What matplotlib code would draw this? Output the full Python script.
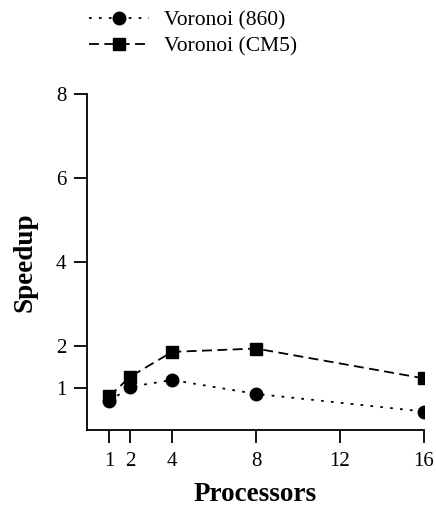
import matplotlib
matplotlib.use("Agg")
import matplotlib.pyplot as plt

processors = [1, 2, 4, 8, 16]
speedup_860 = [0.68, 1.03, 1.19, 0.86, 0.44]
speedup_cm5 = [0.80, 1.27, 1.86, 1.94, 1.23]
xticks = [1, 2, 4, 8, 12, 16]
yticks = [1, 2, 4, 6, 8]

plt.rcParams['font.family'] = ['Liberation Serif', 'DejaVu Serif']
plt.rcParams['font.size'] = 15

fig = plt.figure(figsize=(4.36, 5.08), dpi=100)
ax = fig.add_axes([0.2, 0.1535, 0.772, 0.6615])

l1, = ax.plot(processors, speedup_860, color='black', lw=1.3, linestyle=(0, (1.5, 4)),
              marker='o', markersize=9, label='Voronoi (860)')
l2, = ax.plot(processors, speedup_cm5, color='black', lw=1.3, linestyle=(0, (5.5, 3)),
              marker='s', markersize=9, label='Voronoi (CM5)')

ax.set_xlim(-0.05, 16)
ax.set_ylim(0, 8)
ax.set_xticks(xticks)
ax.set_yticks(yticks)
ax.spines['top'].set_visible(False)
ax.spines['right'].set_visible(False)
for s in ['left', 'bottom']:
    ax.spines[s].set_linewidth(1.3)
ax.tick_params(direction='out', length=9.5, width=1.3, labelsize=15)
ax.tick_params(axis='x', pad=6)
ax.tick_params(axis='y', pad=5.5)

ax.set_xlabel('Processors', fontweight='bold', fontsize=19.5, labelpad=8)
ax.set_ylabel('Speedup', fontweight='bold', fontsize=19.5, labelpad=13)

fig.legend(handles=[l1, l2], loc='upper left', bbox_to_anchor=(0.16, 1.017),
           frameon=False, handlelength=2.8, handletextpad=0.7, labelspacing=0.25,
           fontsize=15.5)

fig.savefig('out.png', dpi=100)
